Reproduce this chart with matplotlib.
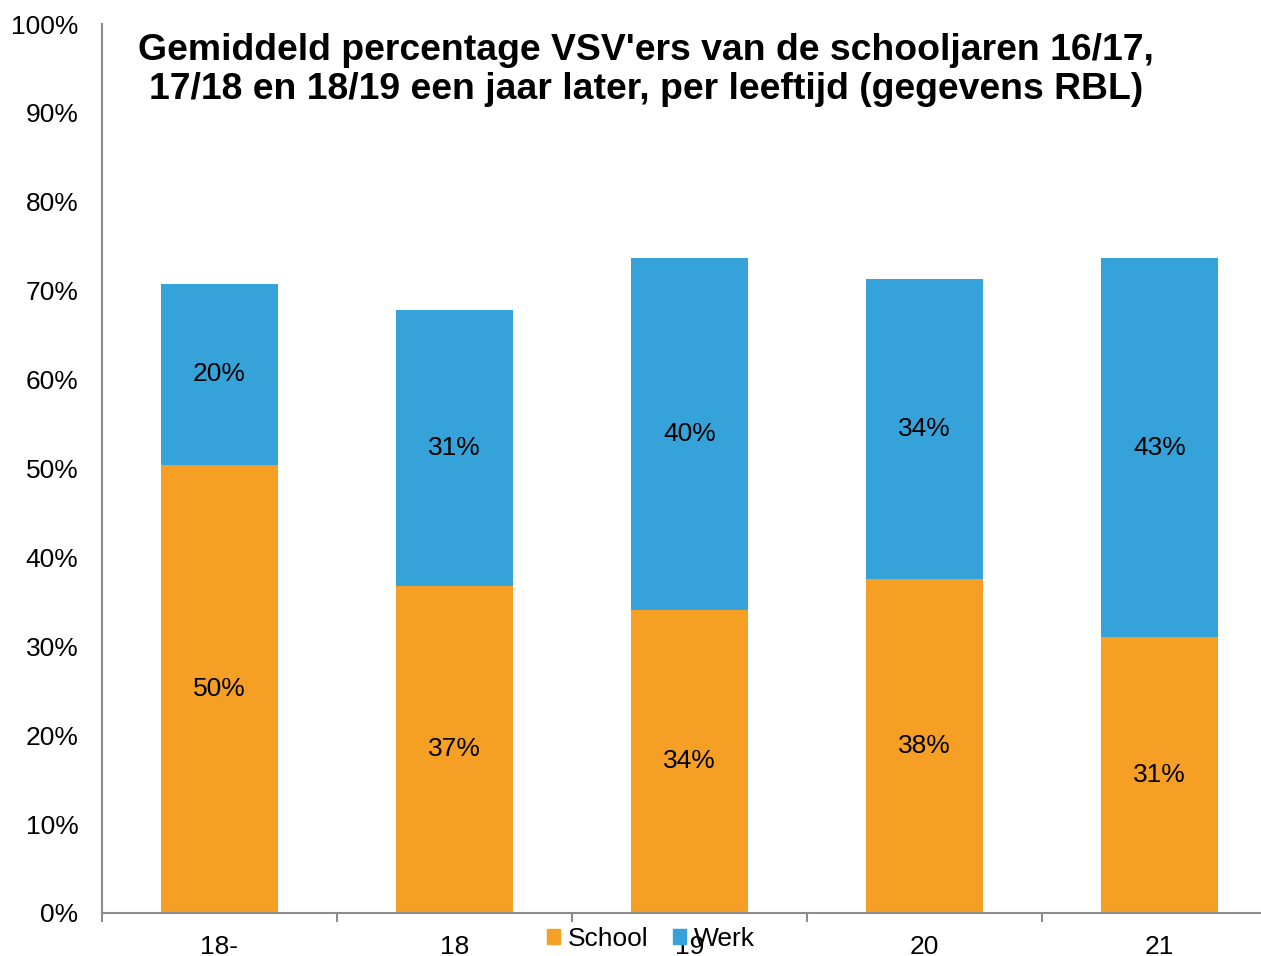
import matplotlib.pyplot as plt
import numpy as np
from matplotlib.patches import Patch

plt.rcParams['font.family'] = ['Liberation Sans', 'DejaVu Sans']

# leeftijden en gemiddelde percentages
ages = ['18-', '18', '19', '20', '21']
school = [50.4, 36.8, 34.1, 37.6, 31.0]
werk = [20.4, 31.0, 39.6, 33.7, 42.7]
school_labels = ['50%', '37%', '34%', '38%', '31%']
werk_labels = ['20%', '31%', '40%', '34%', '43%']

c_school = '#F69F25'
c_werk = '#35A3D9'
grey = '#8C8C8C'

fig = plt.figure(figsize=(12.61, 9.56), dpi=100)
ax = fig.add_axes([102 / 1261, 43 / 956, 1159 / 1261, 889 / 956])

x = np.arange(len(ages))
b1 = ax.bar(x, school, width=0.5, color=c_school)
b2 = ax.bar(x, werk, width=0.5, bottom=school, color=c_werk)

ax.bar_label(b1, labels=school_labels, label_type='center', fontsize=19)
ax.bar_label(b2, labels=werk_labels, label_type='center', fontsize=19)

ax.set_ylim(0, 100)
ax.set_xlim(-0.5, -0.5 + 1159 / 235)
ax.set_yticks(np.arange(0, 101, 10))
ax.set_yticklabels([f'{v}%' for v in range(0, 101, 10)], fontsize=19)
ax.tick_params(axis='y', length=0, pad=17)

ax.set_xticks(x)
ax.set_xticklabels(ages, fontsize=19)
ax.set_xticks(np.arange(-0.5, 4, 1), minor=True)
ax.tick_params(axis='x', which='major', length=0, pad=15.5)
ax.tick_params(axis='x', which='minor', length=6.5, width=1.5, color=grey)

for s in ['top', 'right']:
    ax.spines[s].set_visible(False)
for s in ['left', 'bottom']:
    ax.spines[s].set_color(grey)
    ax.spines[s].set_linewidth(1.5)

fig.text(646 / 1261, 1 - 70 / 956,
         "Gemiddeld percentage VSV'ers van de schooljaren 16/17,\n"
         "17/18 en 18/19 een jaar later, per leeftijd (gegevens RBL)",
         ha='center', va='center', fontsize=26.9, fontweight='bold',
         linespacing=1.16)

handles = [Patch(color=c_school, label='School'), Patch(color=c_werk, label='Werk')]
fig.legend(handles=handles, loc='center', bbox_to_anchor=(651 / 1261, 1 - 939 / 956),
           ncol=2, frameon=False, fontsize=19, handlelength=0.47, handleheight=0.47,
           handletextpad=0.3, columnspacing=0.95)

plt.savefig('out.png', dpi=100)
